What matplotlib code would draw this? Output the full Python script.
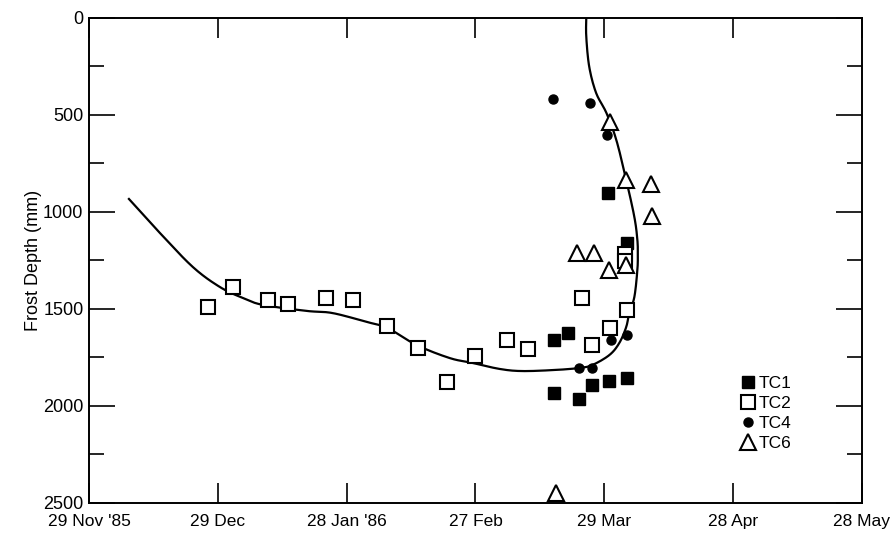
import matplotlib
matplotlib.use("Agg")
import matplotlib.pyplot as plt
import numpy as np

plt.rcParams["font.family"] = ["Liberation Sans", "DejaVu Sans"]

# days counted from 29 Nov 1985, depth in mm
tc1_day = [108.4, 111.6, 108.4, 114.2, 117.2, 121.2, 125.3, 120.9, 125.3]
tc1_depth = [1660, 1624, 1933, 1964, 1892, 1871, 1856, 902, 1160]

tc2_day = [27.7, 33.5, 41.6, 46.3, 55.3, 61.4, 69.5, 76.5, 83.3, 89.8,
           97.4, 102.3, 114.7, 117.2, 121.4, 125.3, 124.9, 124.9]
tc2_depth = [1490, 1387, 1454, 1474, 1443, 1454, 1588, 1701, 1876, 1742,
             1660, 1706, 1443, 1686, 1598, 1505, 1215, 1255]

tc4_day = [108.1, 116.7, 120.7, 114.2, 117.2, 121.6, 125.3, 125.1]
tc4_depth = [418, 438, 603, 1804, 1804, 1660, 1634, 1290]

tc6_day = [121.4, 125.1, 130.9, 131.2, 113.7, 117.7, 121.2, 125.1, 108.8]
tc6_depth = [536, 835, 856, 1021, 1211, 1211, 1299, 1273, 2448]

# hand-drawn trend curve
curve_day = [9.3, 16.5, 24.2, 30.5, 35.8, 40.5, 50.7, 56.7, 64.7, 69.5,
             76.3, 84.0, 89.3, 95.6, 100.9, 108.8, 114.2, 117.2, 121.2, 123.5,
             125.1, 125.8, 127.0, 127.7, 127.8, 127.7, 127.0, 125.1, 122.8, 120.5,
             118.1, 116.5, 115.8, 115.8]
curve_depth = [933, 1108, 1284, 1387, 1443, 1479, 1510, 1521, 1567, 1598,
               1686, 1753, 1778, 1809, 1820, 1814, 1804, 1789, 1737, 1675,
               1593, 1521, 1438, 1299, 1220, 1144, 1026, 835, 629, 490,
               387, 253, 98, 0]

tick_days = [0, 30, 60, 90, 120, 150, 180]
tick_labels = ["29 Nov '85", "29 Dec", "28 Jan '86", "27 Feb", "29 Mar", "28 Apr", "28 May"]


def smooth(x, y, n=12):
    # catmull-rom through the read points, just for a smoother pen line
    p = np.column_stack([x, y]).astype(float)
    p = np.vstack([p[0], p, p[-1]])
    out = []
    t = np.linspace(0, 1, n, endpoint=False)[:, None]
    for i in range(1, len(p) - 2):
        p0, p1, p2, p3 = p[i - 1], p[i], p[i + 1], p[i + 2]
        seg = 0.5 * ((2 * p1) + (-p0 + p2) * t + (2 * p0 - 5 * p1 + 4 * p2 - p3) * t ** 2
                     + (-p0 + 3 * p1 - 3 * p2 + p3) * t ** 3)
        out.append(seg)
    out.append(p[-2][None, :])
    out = np.vstack(out)
    return out[:, 0], out[:, 1]


fig = plt.figure(figsize=(8.9, 5.33), dpi=100)
ax = fig.add_axes([0.1, 0.0563, 0.8685, 0.91])

cx, cy = smooth(curve_day, curve_depth)
ax.plot(cx, cy, color="black", lw=1.6, zorder=2)

ax.plot(tc1_day, tc1_depth, "s", color="black", ms=8.5, ls="none", label="TC1", zorder=3)
ax.plot(tc2_day, tc2_depth, "s", mfc="white", mec="black", mew=1.5, ms=10, ls="none",
        label="TC2", zorder=3)
ax.plot(tc4_day, tc4_depth, "o", color="black", ms=6.5, ls="none", label="TC4", zorder=3)
ax.plot(tc6_day, tc6_depth, "^", mfc="white", mec="black", mew=1.5, ms=11, ls="none",
        label="TC6", zorder=4, clip_on=False)

ax.set_xlim(0, 180)
ax.set_ylim(2500, 0)
ax.set_xticks(tick_days)
ax.set_xticklabels(tick_labels)
ax.set_yticks([0, 500, 1000, 1500, 2000, 2500])
ax.set_yticks([250, 750, 1250, 1750, 2250], minor=True)

ax.tick_params(axis="x", which="major", direction="in", length=14.5, width=1.2,
               top=True, labelsize=12.5, pad=8)
ax.tick_params(axis="y", which="major", direction="in", length=19, width=1.2,
               right=True, labelsize=13, pad=4)
ax.tick_params(axis="y", which="minor", direction="in", length=11, width=1.2, right=True)

for s in ax.spines.values():
    s.set_linewidth(1.4)

ax.set_ylabel("Frost Depth (mm)", fontsize=13, labelpad=1)

ax.legend(loc="upper left", bbox_to_anchor=(0.832, 0.277), frameon=False, fontsize=12.5,
          handletextpad=0.15, labelspacing=0.28, handlelength=1.0, borderaxespad=0)

fig.savefig("out.png", dpi=100)
